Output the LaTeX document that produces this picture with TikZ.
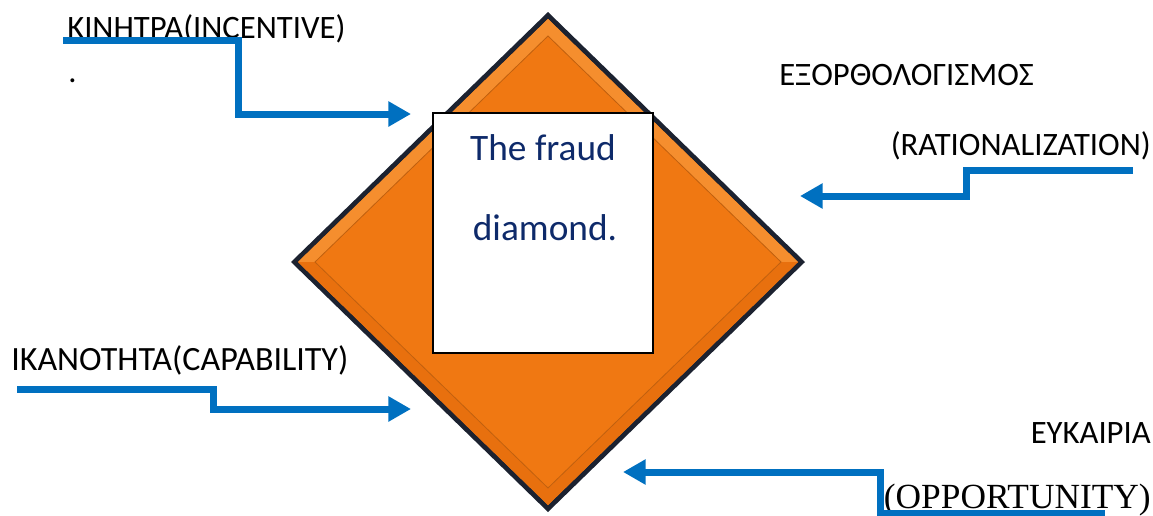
\documentclass[tikz,border=0pt]{standalone}
\usepackage{fontspec}
\setmainfont{Carlito}
\newfontfamily\timesfont{Liberation Serif}
\usetikzlibrary{arrows.meta}
\definecolor{arrblue}{HTML}{0070C0}
\definecolor{orbase}{HTML}{F07812}
\definecolor{orlight}{HTML}{F58E2E}
\definecolor{ordark}{HTML}{E8700E}
\definecolor{orline}{HTML}{C0600F}
\definecolor{rimdark}{HTML}{1C2230}
\definecolor{navytext}{HTML}{0E2A6A}
\tikzset{
  px/.style={x=0.75pt,y=-0.75pt},
  arr/.style={draw=arrblue,line width=5.25pt,-{Triangle[length=17pt,width=18pt]}},
  lbl/.style={inner sep=0pt,font=\fontsize{24.5}{29}\selectfont,text=black},
  boxtext/.style={inner sep=0pt,font=\fontsize{28}{32}\selectfont,text=navytext},
}
\begin{document}
\begin{tikzpicture}[px]
\useasboundingbox (0,0) rectangle (1153,515);
% diamond
\coordinate (dT0) at (548,12);  \coordinate (dR0) at (805,262);
\coordinate (dB0) at (548,512); \coordinate (dL0) at (291,262);
\coordinate (dT1) at (548,19);  \coordinate (dR1) at (798,262);
\coordinate (dB1) at (548,505); \coordinate (dL1) at (298,262);
\coordinate (dT2) at (548,36);  \coordinate (dR2) at (781,262);
\coordinate (dB2) at (548,488); \coordinate (dL2) at (315,262);
\fill[rimdark] (dT0) -- (dR0) -- (dB0) -- (dL0) -- cycle;
\fill[orbase] (dT1) -- (dR1) -- (dB1) -- (dL1) -- cycle;
\fill[orlight] (dL1) -- (dT1) -- (dR1) -- (dR2) -- (dT2) -- (dL2) -- cycle;
\fill[ordark] (dL1) -- (dB1) -- (dR1) -- (dR2) -- (dB2) -- (dL2) -- cycle;
\draw[orline,line width=0.6pt,fill=orbase] (dT2) -- (dR2) -- (dB2) -- (dL2) -- cycle;
% white box
\node[draw=black,line width=0.8pt,fill=white,minimum width=165pt,minimum height=180pt,inner sep=0pt] (box) at (543,233) {};
\node[boxtext,anchor=base] (t1) at (543,160) {The fraud};
\node[boxtext,anchor=base] (t2) at (545,240) {diamond.};
% labels
\node[lbl,anchor=base west] (inc) at (67,38) {ΚΙΝΗΤΡΑ(INCENTIVE)};
\node[lbl,anchor=base west] (dot) at (68,82) {.};
\node[lbl,anchor=base west] (rat1) at (779,85) {ΕΞΟΡΘΟΛΟΓΙΣΜΟΣ};
\node[lbl,anchor=base east] (rat2) at (1151,155) {(RATIONALIZATION)};
\node[lbl,anchor=base west,font=\fontsize{25.5}{29}\selectfont] (cap) at (11,370) {ΙΚΑΝΟΤΗΤΑ(CAPABILITY)};
\node[lbl,anchor=base east] (opp1) at (1151,443) {ΕΥΚΑΙΡΙΑ};
\node[inner sep=0pt,font=\timesfont\fontsize{26.5}{30}\selectfont,anchor=base east] (opp2) at (1151,508) {(OPPORTUNITY)};
% arrows
\coordinate (incS) at (63,40);  \coordinate (incT) at (411,114);
\coordinate (capS) at (17,389); \coordinate (capT) at (411,409);
\coordinate (ratS) at (1133,170); \coordinate (ratT) at (800,196);
\coordinate (oppS) at (1105,513); \coordinate (oppT) at (623,472);
\draw[arr] (incS) -- (238,40) |- (incT);
\draw[arr] (capS) -- (213,389) |- (capT);
\draw[arr] (ratS) -- (966,170) |- (ratT);
\draw[arr] (oppS) -- (880,513) |- (oppT);
\end{tikzpicture}
\end{document}
